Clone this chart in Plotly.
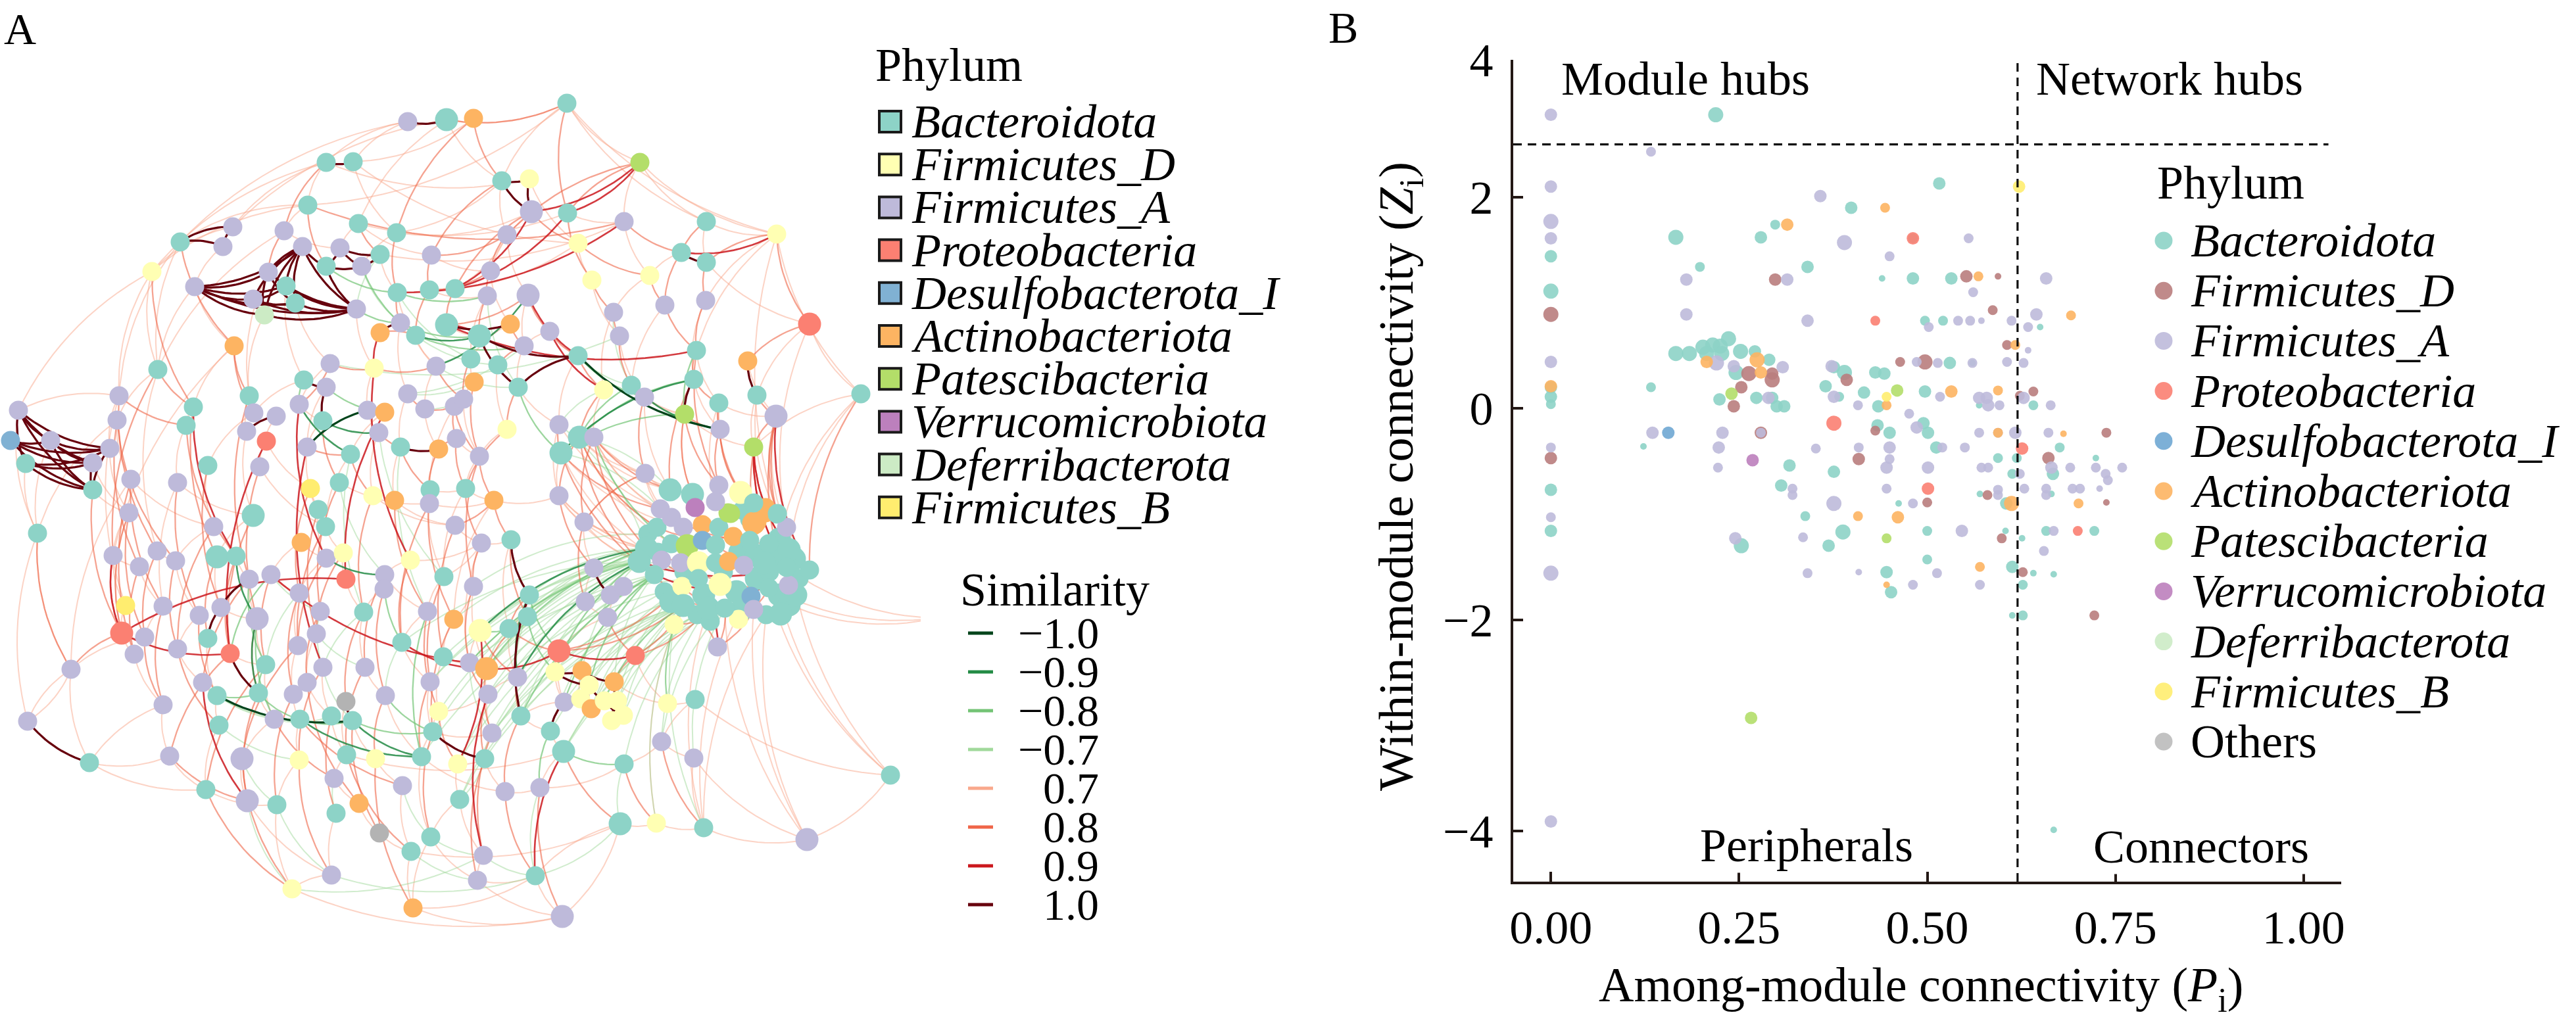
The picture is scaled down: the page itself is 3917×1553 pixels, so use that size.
import numpy as np
import plotly.graph_objects as go

W, H = 3917, 1553
SERIF = "Liberation Serif, Times New Roman, serif"

# ---------------- categories & colours ----------------
phylum_codes = ["Bac", "FiD", "FiA", "Pro", "Des", "Act", "Pat", "Ver", "Def", "FiB", "Oth"]
phylum_names = ["Bacteroidota", "Firmicutes_D", "Firmicutes_A", "Proteobacteria", "Desulfobacterota_I",
                "Actinobacteriota", "Patescibacteria", "Verrucomicrobiota", "Deferribacterota",
                "Firmicutes_B", "Others"]
net_colors = ["#8DD3C7", "#FFFFB3", "#BEBADA", "#FB8072", "#80B1D3", "#FDB462", "#B3DE69",
              "#BC80BD", "#CCEBC5", "#FFED6F", "#B3B3B3"]
zp_colors = ["#8DD3C7", "#B97D7D", "#BEBADA", "#FB8072", "#6FA7D3", "#FDB462", "#B3DE69",
             "#BC80BD", "#CCEBC5", "#FFED6F", "#BBBBBB"]

sim_labels = ["\u22121.0", "\u22120.9", "\u22120.8", "\u22120.7", "0.7", "0.8", "0.9", "1.0"]
sim_colors = ["#00441B", "#238B45", "#74C476", "#A1D99B", "#F9A88C", "#EF6548", "#CB181D", "#67000D"]

# ---------------- panel A: network nodes (layout coordinates) ----------------
nodes_fill = [("k52",1180,850,"Bac"),("k53",1208,850,"Bac"),("k54",1150,880,"Bac"),("k55",1185,905,"Bac"),
              ("k56",1120,900,"Bac"),("k57",1070,905,"Bac"),("k58",1010,900,"Bac"),("k59",1125,840,"Bac"),
              ("k60",1215,880,"Bac"),("k61",1200,920,"Bac"),("k62",1165,935,"Bac"),("k63",985,812,"Bac"),
              ("k64",1040,870,"Bac"),("k65",1125,930,"Bac"),("k66",1150,845,"Bac"),("k67",1185,820,"Bac"),
              ("k68",1020,915,"Bac"),("k69",1060,935,"Bac"),("k70",1000,840,"Bac"),("k71",1140,790,"Bac"),
              ("k72",1100,870,"Bac"),("k73",1170,870,"Bac"),("k74",1210,905,"Bac"),("k75",1080,945,"Bac")]
nodes_a = [("a1",620,185,"FiA"),("a2",679,182,"Bac"),("a3",496,247,"Bac"),("a4",537,246,"Bac"),("a5",468,312,"Bac"),
           ("a6",545,340,"Bac"),("a7",603,354,"Bac"),("a8",354,345,"FiA"),("a9",339,375,"FiA"),("a10",274,368,"Bac"),
           ("a11",432,351,"FiA"),("a12",460,375,"FiA"),("a13",517,377,"FiA"),("a14",578,387,"Bac"),("a15",496,405,"Bac"),
           ("a16",550,405,"FiA"),("a17",656,388,"FiA"),("a18",231,413,"FiD"),("a19",296,436,"FiA"),("a20",408,414,"FiA"),
           ("a21",435,435,"Bac"),("a22",385,455,"FiA"),("a23",449,461,"Bac"),("a24",402,479,"Def"),("a25",542,470,"FiA"),
           ("a26",604,445,"Bac"),("a27",653,441,"Bac"),("a28",692,439,"Bac"),("a29",609,491,"FiA"),("a30",632,510,"Bac"),
           ("a31",679,494,"Bac"),("a32",578,506,"Act"),("a33",356,526,"Act"),("a34",240,562,"Bac"),("a35",502,553,"FiA"),
           ("a36",569,560,"FiD"),("a37",663,557,"FiA"),("a38",462,578,"Bac"),("a39",496,589,"FiA"),("a40",181,602,"FiA"),
           ("a41",178,639,"FiA"),("a42",379,602,"Bac"),("a43",294,619,"Bac"),("a44",455,615,"FiA"),("a45",620,599,"FiA"),
           ("a46",559,624,"FiA"),("a47",585,627,"Act"),("a48",646,622,"FiA"),("a49",691,618,"FiA"),("a50",386,628,"FiA"),
           ("a51",420,633,"FiA"),("a52",283,647,"Bac"),("a53",491,640,"Bac"),("a54",375,656,"FiA"),("a55",405,671,"Pro"),
           ("a56",576,658,"FiA"),("a57",609,680,"Bac"),("a58",667,683,"Act"),("a59",467,680,"FiA"),("a60",533,691,"Bac"),
           ("a61",28,624,"FiA"),("a62",16,670,"Des"),("a63",77,670,"FiA"),("a64",39,705,"Bac"),("a65",167,682,"FiA"),
           ("a66",141,704,"FiA"),("a67",141,745,"Bac"),("a68",199,729,"FiA"),("a69",270,734,"FiA"),("a70",316,708,"Bac"),
           ("a71",395,710,"FiA"),("a72",472,743,"FiB"),("a73",516,734,"Bac"),("a74",567,754,"FiD"),("a75",600,761,"Act"),
           ("a76",654,745,"Bac"),("a77",653,766,"FiA"),("a78",484,775,"Bac"),("a79",196,780,"FiA"),("a80",385,784,"Bac"),
           ("a81",325,801,"FiA"),("a82",495,801,"Bac"),("a83",57,811,"Bac"),("a84",692,799,"FiA"),("a85",694,667,"FiA")]
nodes_b = [("b1",720,180,"Act"),("b2",862,157,"Bac"),("b3",973,247,"Pat"),("b4",763,275,"Bac"),("b5",805,272,"FiD"),
           ("b6",808,322,"FiA"),("b7",863,324,"Bac"),("b8",949,337,"FiA"),("b9",771,357,"FiA"),("b10",879,370,"FiD"),
           ("b11",1074,337,"Bac"),("b12",1181,356,"FiD"),("b13",1036,384,"Bac"),("b14",1074,399,"Bac"),("b15",746,412,"FiA"),
           ("b16",900,426,"FiD"),("b17",988,419,"FiD"),("b19",741,450,"FiA"),("b20",803,449,"FiA"),("b21",933,475,"FiA"),
           ("b22",1011,464,"FiA"),("b23",1073,457,"FiA"),("b24",1231,493,"Pro"),("b25",776,493,"Act"),("b26",729,511,"Bac"),
           ("b27",836,504,"FiA"),("b28",942,511,"FiA"),("b29",797,526,"FiA"),("b30",879,541,"Bac"),("b31",716,546,"Bac"),
           ("b32",757,555,"Bac"),("b33",1059,533,"Bac"),("b34",1137,549,"Act"),("b35",721,581,"Act"),("b36",788,589,"Bac"),
           ("b37",918,593,"FiD"),("b38",960,586,"Bac"),("b39",980,604,"FiA"),("b40",1055,577,"Bac"),("b41",1151,601,"Bac"),
           ("b42",1309,599,"Bac"),("b43",1093,613,"Bac"),("b44",1041,630,"Pat"),("b45",1180,633,"FiA"),("b46",705,607,"FiA"),
           ("b47",1095,653,"FiA"),("b48",1146,680,"Pat"),("b49",771,653,"FiD"),("b50",850,646,"FiA"),("b51",881,665,"Bac"),
           ("b52",903,665,"FiA"),("b53",853,689,"Bac"),("b54",729,694,"FiA"),("b56",981,720,"FiA"),("b57",708,743,"Bac"),
           ("b58",751,761,"Act"),("b59",850,754,"FiA"),("b60",888,794,"FiA")]
nodes_c = [("c7",458,825,"Act"),("c8",172,845,"FiA"),("c9",239,838,"FiA"),("c10",212,862,"FiA"),("c11",267,853,"FiA"),
           ("c12",330,847,"Bac"),("c13",359,846,"Bac"),("c14",496,849,"FiA"),("c15",522,841,"FiD"),("c16",624,852,"FiD"),
           ("c19",379,881,"FiA"),("c20",412,874,"FiA"),("c21",526,881,"Pro"),("c22",585,874,"FiA"),("c23",584,896,"FiA"),
           ("c24",675,877,"Bac"),("c25",191,921,"FiB"),("c26",248,922,"FiA"),("c27",303,936,"FiA"),("c28",336,924,"FiA"),
           ("c29",391,941,"FiA"),("c30",455,902,"FiA"),("c31",487,930,"FiA"),("c32",553,931,"Bac"),("c33",650,930,"FiA"),
           ("c34",690,942,"Act"),("c35",185,963,"Pro"),("c36",220,969,"FiA"),("c37",204,995,"FiA"),("c38",270,987,"FiA"),
           ("c39",316,971,"Bac"),("c40",350,994,"Pro"),("c41",453,982,"FiA"),("c42",481,964,"FiA"),("c43",611,977,"Bac"),
           ("c44",674,999,"Bac"),("c45",108,1018,"FiA"),("c46",404,1011,"Bac"),("c47",491,1015,"FiA"),("c48",555,1015,"FiA"),
           ("c49",308,1038,"FiA"),("c50",330,1058,"Bac"),("c51",393,1054,"Bac"),("c52",446,1056,"FiA"),("c53",467,1038,"FiA"),
           ("c54",526,1067,"Oth"),("c55",586,1058,"FiA"),("c56",654,1037,"FiA"),("c57",667,1082,"FiD"),("c58",248,1072,"FiA"),
           ("c59",417,1094,"FiA"),("c60",456,1094,"Bac"),("c61",504,1089,"Bac"),("c62",536,1096,"Bac"),("c63",658,1113,"Bac"),
           ("c64",42,1097,"FiA"),("c65",333,1103,"Bac"),("c66",136,1160,"Bac"),("c67",258,1150,"FiA"),("c68",368,1154,"FiA"),
           ("c69",455,1156,"FiD"),("c70",527,1148,"Bac"),("c71",571,1154,"FiD"),("c72",641,1151,"Bac"),("c73",696,1162,"FiD"),
           ("c74",508,1184,"FiA"),("c75",612,1195,"FiA"),("c76",313,1201,"Bac"),("c77",376,1218,"FiA"),("c78",421,1224,"Bac"),
           ("c79",546,1222,"Act"),("c80",511,1237,"Bac"),("c81",699,1216,"Bac"),("c82",577,1267,"Oth"),("c83",655,1273,"Bac"),
           ("c84",625,1295,"Bac"),("c85",504,1331,"FiA"),("c86",444,1352,"FiD"),("c87",628,1381,"Act")]
nodes_d = [("d5",732,826,"FiA"),("d6",777,821,"Bac"),("d7",903,864,"FiA"),("d8",720,892,"FiA"),("d9",805,905,"Bac"),
           ("d10",890,915,"FiA"),("d11",928,905,"FiA"),("d12",948,892,"FiA"),("d13",802,938,"Bac"),("d14",924,939,"FiA"),
           ("d15",730,959,"FiD"),("d16",774,956,"Bac"),("d17",850,990,"Pro"),("d18",966,997,"Pro"),("d19",714,1008,"FiA"),
           ("d20",740,1017,"Act"),("d21",787,1030,"FiA"),("d22",742,1056,"FiA"),("d23",844,1022,"FiD"),("d24",885,1020,"Act"),
           ("d25",896,1042,"FiD"),("d26",934,1037,"Act"),("d27",858,1068,"FiA"),("d28",883,1063,"FiD"),("d29",899,1078,"Act"),
           ("d30",919,1066,"FiD"),("d31",939,1066,"FiD"),("d32",948,1088,"FiD"),("d33",930,1096,"FiD"),("d34",792,1089,"Bac"),
           ("d35",837,1112,"Bac"),("d36",857,1143,"Bac"),("d37",748,1115,"FiA"),("d38",1015,1070,"FiD"),("d39",1057,1064,"Bac"),
           ("d40",1025,950,"FiD"),("d41",1091,984,"FiA"),("d42",1123,942,"FiD"),("d43",1187,934,"Bac"),("d44",1199,890,"FiA"),
           ("d45",1231,867,"Bac"),("d47",737,1154,"Bac"),("d50",768,1204,"FiA"),("d51",821,1198,"FiA"),("d52",949,1162,"Bac"),
           ("d53",1006,1128,"FiA"),("d54",1055,1153,"FiA"),("d55",943,1253,"Bac"),("d56",998,1252,"FiD"),("d57",1070,1259,"Bac"),
           ("d58",735,1301,"FiA"),("d59",726,1339,"FiA"),("d60",814,1332,"Bac"),("d61",855,1394,"FiA"),("d62",1227,1277,"FiA"),
           ("d63",1354,1179,"Bac"),("e1",1425,940,"Bac")]
nodes_k = [("k1",999,802,"Bac"),("k2",1021,787,"FiA"),("k3",1039,802,"FiA"),("k4",1068,798,"Act"),("k5",1093,802,"Bac"),
           ("k6",1107,780,"Pat"),("k7",1129,776,"Bac"),("k8",1146,796,"Act"),("k9",1164,780,"Act"),("k10",1182,782,"Bac"),
           ("k11",1196,802,"FiA"),("k12",983,834,"Bac"),("k13",1021,827,"Bac"),("k14",1045,830,"Pat"),("k15",1068,822,"Des"),
           ("k16",1088,829,"Bac"),("k17",1115,816,"Act"),("k18",1140,822,"Bac"),("k19",1169,827,"Bac"),("k20",1200,836,"Bac"),
           ("k21",972,854,"Bac"),("k22",1006,852,"FiA"),("k23",1035,856,"FiA"),("k24",1062,856,"FiD"),("k25",1088,856,"Bac"),
           ("k26",1108,854,"Act"),("k27",1131,860,"FiA"),("k28",1162,856,"Bac"),("k29",1196,863,"Bac"),("k30",995,874,"Bac"),
           ("k31",1037,892,"FiD"),("k32",1095,889,"FiD"),("k33",1062,880,"Bac"),("k34",1142,907,"Des"),("k35",1169,894,"Bac"),
           ("k36",1039,921,"Bac"),("k37",1077,925,"Bac"),("k38",1102,925,"Bac"),("k39",1146,927,"FiA"),("k40",1019,745,"Bac"),
           ("k41",1053,752,"Bac"),("k42",1093,738,"FiA"),("k43",1126,749,"FiD"),("k44",1057,772,"Ver"),("k45",1004,774,"FiA"),
           ("k46",1088,763,"FiA"),("k47",1111,781,"Pat"),("k48",1164,772,"Act"),("k49",1182,781,"Bac"),("k50",1146,765,"Bac"),
           ("k51",1151,794,"Act")]
large_nodes = ["a2","a31","a80","b6","b20","b24","b26","b45","b51","b53","c12","c29","c35","c68","c77","d15","d17",
               "d20","d36","d43","d55","d61","d62","k8","k12","k14","k20","k21","k24","k28","k32","k36","k37","k40",
               "k41","k43","k52","k53","k54","k55","k56","k57","k59","k61","k65","k66","k67","k68","k74"]

# ---------------- panel A: edges by similarity class ----------------
edges_m10 = "a46-a59 c50-c62 b30-b47".split()
edges_m09 = ("a30-b26 a44-a60 c13-c29 c29-c51 c60-c72 b38-b47 b40-b53 c14-c22 d9-d21 c62-c72 a53-a56 "
             "k12-d15 k21-d21 a37-b20").split()
edges_m08 = ("a15-a26 a16-a30 a25-a29 a26-b19 a29-b26 a30-b29 b30-b39 b38-b51 b36-b53 b40-b51 c19-c46 c46-c51 "
             "c51-c60 c60-c62 c62-c63 c29-c59 c55-c63 c33-c72 c22-c43 c20-c40 d15-d16 d9-d17 d13-d23 d36-d52 "
             "d35-d51 c50-c51 b33-b44 b44-b53 a38-a44 a39-a47 k30-d34 k36-d38 b52-k13 k21-d23 k30-d25 k36-d30 "
             "k12-d20 k21-d19 k30-d27").split()
edges_m07 = ("k21-d24 k30-d26 k36-d28 k37-d31 k37-d32 k36-d33 k21-d15 k21-d16 k12-d13 k12-d9 k30-d21 k36-d34 "
             "k36-d35 k37-d36 k38-d36 k36-d47 k30-d20 k21-d20 k12-d16 k36-d37 k37-d52 k38-d53 k36-d27 k36-d29 "
             "k21-c73 k12-c63 k30-c72 k21-c44 k12-c56 k45-b53 k40-b51 k12-b50 k21-d34 k30-d37 k13-d22 k22-d20 "
             "k23-c73 k33-d19 k36-d56 k37-d53 k38-d54 d40-d57 k21-c56 k12-c57 k30-c81 k31-d29 k33-d25 k36-d32 "
             "k31-d33 k30-d35 k21-d13 k63-d8 k70-d19 k58-d22 k68-d37 k69-d36 k58-c81 k12-c34 k21-c43 "
             "a26-b31 a30-b32 a37-b36 a45-b35 a48-b46 a56-c24 a57-c33 a60-c32 a73-c22 a14-a25 a16-a29 b19-b36 "
             "b30-b38 b37-b50 c20-c31 c31-c47 c47-c62 c43-c55 c32-c47 c49-c59 c50-c60 c59-c61 c65-c69 c74-c80 "
             "c75-c83 c68-c78 c77-c86 c78-c85 d13-d21 d16-d20 d19-d37 d21-d34 d51-d60 d52-d55 d58-d60 c81-d47 "
             "c83-d58 c84-d59 c86-d58 c85-d60 d60-d55 a35-b28 a45-b29 b21-b38 c42-c48 c30-c46").split()
edges_p07 = ("a1-a3 a1-a4 a2-a6 a2-b4 a3-a5 a3-a8 a4-a7 a4-b1 a5-a11 a5-a18 a6-a13 a6-a17 a7-a16 a7-b4 a8-a18 "
             "a10-a34 a11-a13 a14-a26 a17-b15 a18-a40 a18-a34 a19-a33 a19-a34 a20-a42 a21-a38 a23-a35 a24-a42 "
             "a25-a36 a26-a37 a27-b19 a28-b9 a29-a45 a30-a37 a31-b26 a33-a43 a34-a41 a35-a44 a36-a46 a37-a48 "
             "a38-a50 a39-a59 a40-a61 a40-a65 a41-a68 a42-a54 a43-a52 a44-a53 a45-a57 a46-a56 a47-a60 a48-a58 "
             "a49-a77 a50-a70 a51-a71 a52-a69 a53-a59 a54-a80 a55-a72 a56-a74 a57-a75 a58-a76 a59-a78 a60-a82 "
             "a61-a83 a63-a83 a64-a83 a65-a79 a66-a79 a67-a79 a68-a81 a69-a80 a70-a81 a71-a82 a72-a78 a73-a77 "
             "a74-a84 a75-a84 a76-b57 a77-b58 a78-c14 a79-c8 a80-c12 a81-c11 a82-c15 a83-c64 a84-d5 a85-b54 "
             "a5-b2 a2-b2 a6-b7 a11-a34 a3-a18 a10-a40 a33-c8 a34-c9 a40-c25 a4-b10 a1-a10 a2-a8 a3-b5 a18-a61 "
             "a41-a83 a68-c45 a69-c26 a79-c35 a83-c45 a9-a19 a5-a10 a7-b6 a14-b8 a27-b10 "
             "b2-b4 b2-b11 b3-b11 b3-b8 b4-b9 b5-b10 b6-b15 b7-b8 b8-b17 b9-b20 b10-b16 b11-b14 b12-b23 b12-b42 "
             "b13-b17 b14-b24 b15-b25 b16-b28 b17-b21 b19-b31 b20-b29 b21-b37 b22-b38 b23-b40 b24-b41 b24-b42 "
             "b25-b31 b26-b32 b27-b29 b28-b39 b29-b36 b30-b50 b31-b35 b32-b49 b33-b43 b34-b45 b35-b46 b36-b50 "
             "b37-b52 b38-b44 b39-b44 b40-b47 b41-b48 b42-b48 b43-b45 b44-b48 b46-b54 b49-b54 b50-b59 b51-b56 "
             "b52-b56 b53-b59 b54-b57 b56-b60 b57-b58 b58-b59 b59-b60 b60-d7 b11-b12 b2-b3 b12-b33 b3-b12 b2-b12 "
             "c7-c14 c7-c20 c8-c10 c8-c25 c9-c11 c10-c26 c11-c27 c12-c28 c13-c19 c14-c30 c15-c21 c16-c22 c19-c29 "
             "c20-c30 c21-c32 c22-c33 c23-c32 c24-c33 c25-c35 c26-c36 c27-c38 c28-c29 c29-c46 c30-c41 c31-c42 "
             "c32-c48 c33-c43 c34-c44 c35-c37 c36-c45 c37-c58 c38-c49 c39-c50 c40-c46 c41-c52 c42-c53 c43-c56 "
             "c44-c57 c45-c64 c46-c59 c47-c61 c48-c55 c49-c50 c50-c65 c51-c59 c52-c60 c53-c61 c54-c70 c55-c72 "
             "c56-c63 c57-c63 c58-c67 c59-c68 c60-c69 c61-c70 c62-c71 c63-c72 c65-c76 c66-c67 c67-c76 c68-c77 "
             "c69-c78 c70-c74 c71-c75 c72-c83 c73-c81 c74-c79 c75-c84 c76-c78 c77-c85 c78-c86 c79-c82 c80-c85 "
             "c81-c83 c82-c84 c83-c87 c84-c87 c85-c86 c45-c66 c64-c45 c58-c66 c66-c76 c64-c66 "
             "d5-d6 d5-d19 d6-d16 d7-d10 d8-d20 d9-d13 d10-d14 d11-d12 d12-d14 d13-d16 d14-d17 d15-d19 d16-d21 "
             "d17-d27 d18-d38 d19-d20 d20-d22 d21-d22 d22-d37 d23-d27 d24-d28 d26-d38 d27-d34 d34-d35 d35-d36 "
             "d36-d51 d37-d47 d38-d39 d39-d53 d47-d50 d50-d51 d51-d52 d52-d53 d53-d54 d54-d57 d55-d56 d56-d57 "
             "d58-d59 d59-d60 d60-d61 d55-d60 d57-d62 d62-d63 d54-d62 d39-d63 d61-d55 d59-d61 "
             "c24-d5 c34-d8 c44-d19 c57-d22 c63-d37 c73-d47 c72-d50 c81-d58 c83-d59 c87-d60 c84-d55 c70-d36 "
             "c16-d5 a76-c24 b57-c24 b58-c34 c87-d61 c86-d61 "
             "b51-k1 b51-k13 b53-k3 b52-k41 b52-k45 b56-k40 b56-k45 b59-k21 b60-k21 b60-k12 b47-k43 b43-k46 "
             "b39-k40 b44-k41 k35-e1 k29-e1 k20-d63 k39-d62 k38-d62 k37-d57 k36-d56 k35-d63 b42-k20 b41-k10 "
             "b45-k11 k61-e1 k62-d62 k55-d63 k65-d57 k62-d57 b50-k45 b59-k12 b51-k40 b53-k22 b52-k2 b56-k2 "
             "b60-k63 b59-k70 b12-k10 b24-k11 b42-k67").split()
edges_p08 = ("a34-a43 a34-c8 a40-c9 a41-c10 a43-c12 a42-c19 a52-c13 a33-a42 a33-a50 a18-a43 a40-a52 a41-c11 "
             "a68-c26 a69-c27 a70-c28 a71-c29 a79-c36 a79-c35 a81-c38 a80-c40 a82-c41 a78-c42 a72-c30 a73-c31 "
             "a74-c32 a75-c33 a76-c34 a77-c43 a84-c44 a83-c45 a67-c35 a68-c37 c8-c35 c9-c36 c10-c37 c11-c38 "
             "c12-c39 c13-c40 c14-c41 c15-c42 c16-c43 c22-c48 c23-c55 c24-c56 c20-c46 c19-c49 c26-c58 c27-c50 "
             "c29-c51 c30-c52 c31-c53 c32-c54 c33-c57 c34-c63 c35-c45 c36-c58 c38-c65 c40-c67 c41-c68 c47-c69 "
             "c48-c70 c55-c71 c56-c72 c57-c73 c46-c76 c51-c77 c52-c78 c53-c79 c61-c80 c62-c82 c63-c83 c70-c84 "
             "c69-c85 c68-c86 c71-c87 c76-c86 c67-c77 c59-c74 c60-c75 "
             "a5-a15 a6-a14 a7-a26 a11-a20 a17-a27 a26-a29 a27-a30 a28-a31 a30-a32 a35-a36 a36-a37 a44-a35 "
             "a46-a47 a45-a48 a48-a49 a56-a57 a59-a60 a53-a73 a60-a74 a57-a76 a58-a77 a49-a85 a85-a58 "
             "b1-b4 b2-b7 b3-b7 b3-b9 b6-b10 b7-b16 b8-b13 b9-b15 b10-b17 b11-b13 b12-b14 b12-b24 b13-b22 "
             "b14-b23 b15-b19 b16-b21 b17-b22 b19-b26 b20-b27 b21-b28 b22-b33 b23-b33 b24-b34 b25-b29 b27-b30 "
             "b28-b38 b29-b32 b30-b37 b31-b46 b32-b36 b33-b40 b35-b54 b36-b49 b37-b51 b38-b39 b39-b56 b40-b43 "
             "b41-b45 b43-b47 b44-b47 b45-b48 b49-b57 b50-b53 b51-b59 b52-b60 b54-b58 b56-b60 "
             "a31-b20 a27-b15 a17-b9 a37-b46 a49-b54 a85-b57 a84-b58 b57-d5 b58-d6 b59-d7 b60-d10 b54-d8 d5-d8 "
             "d6-d13 d8-d19 d9-d16 d13-d20 d15-d21 d16-d17 d19-d22 d20-d37 d21-d34 d22-d47 d34-d50 d37-d58 "
             "d47-d59 d50-d60 d51-d61 d36-d55 d52-d56 d53-d57 d17-d23 d18-d26 d14-d18 "
             "a10-a33 a5-b8 a3-a11 a2-b2 b4-a17 b6-a28 b1-a7 "
             "b51-k21 b52-k12 b53-k30 b51-k1 b53-k45 b52-k40 d18-k36 d18-k37 d17-k36 d40-k38 d41-k39 d42-k35 "
             "b45-k10 b48-k20 b47-k42 d41-k36 d41-k38 d40-k36 d40-k31 d42-k39 d42-k34 d17-k31 b48-k29 b45-k20 "
             "b42-d45 b48-d43 b45-d44 b44-k41 b44-k42 b47-k43 b40-k40 b43-k43 b33-k42 "
             "k12-k24 k13-k25 k22-k33 k16-k28 k5-k19 k14-k26 k23-k35 k31-k38 k32-k39 k30-k37 k1-k17 k45-k18").split()
edges_p09 = ("a28-b6 a26-b8 a31-b33 a36-c16 a44-c14 a47-c21 a55-c40 a59-c47 b20-b30 b27-b37 b6-b3 b13-b12 "
             "b45-d45 b48-k29 c21-c35 c35-c40 c20-d19 c43-d20 d20-d17 d17-d18 d36-d60 c73-d15 b26-a31 a32-a36 "
             "c49-c77 d22-d58 b7-b3 a28-b7 d41-k37 b48-k20 c8-c35 a43-c13 k21-k29 k30-k35").split()
edges_p10 = ("a1-a2 a3-a4 a8-a9 a8-a10 a9-a10 a19-a12 a19-a20 a19-a21 a19-a22 a19-a23 a19-a24 a19-a25 a12-a21 "
             "a12-a22 a12-a23 a12-a24 a12-a25 a12-a20 a12-a15 a20-a25 a21-a25 a23-a25 a22-a25 a24-a25 a20-a23 "
             "a22-a21 a20-a24 a22-a23 a13-a14 a13-a16 a15-a13 a16-a14 a15-a16 a15-a25 a61-a65 a61-a66 a61-a67 "
             "a61-a64 a62-a65 a62-a66 a62-a63 a63-a65 a63-a67 a64-a65 a64-a66 a64-a67 a65-a67 a66-a67 a62-a67 "
             "a61-a63 a63-a66 a38-a39 a39-a53 a51-a54 a57-a58 a29-a32 a31-b25 b4-b5 b4-b6 b5-b6 b13-b14 b34-b41 "
             "b26-b30 b30-b36 b26-b36 b40-b44 c64-c66 c19-c28 c28-c39 c40-c51 c54-c62 d6-d9 d9-d34 d7-d11 "
             "d27-d35 c63-d47 d23-d24 d23-d25 d24-d26 d25-d30 d28-d29 d29-d31 d30-d32 d31-d33 d24-d25 d26-d31 "
             "d25-d29 d28-d30").split()
edge_classes = [edges_m10, edges_m09, edges_m08, edges_m07, edges_p07, edges_p08, edges_p09, edges_p10]

# ---------------- panel B: Zi-Pi points (Pi, Zi, phylum, size class) ----------------
zipi_points = [
    (0.00,2.78,"FiA","M"),(0.00,2.10,"FiA","M"),(0.00,1.77,"FiA","L"),(0.00,1.61,"FiA","M"),(0.00,1.44,"Bac","M"),
    (0.00,1.11,"Bac","L"),(0.00,0.89,"FiD","L"),(0.00,0.44,"FiA","M"),(0.00,0.20,"Bac","M"),(0.00,0.21,"Act","M"),
    (0.00,0.11,"Bac","M"),(0.00,0.04,"Bac","S"),(0.00,-0.37,"FiA","S"),(0.00,-0.47,"FiD","M"),(0.00,-0.77,"Bac","M"),
    (0.00,-1.03,"FiA","S"),(0.00,-1.16,"Bac","M"),(0.00,-1.56,"FiA","L"),(0.00,-3.91,"FiA","M"),
    (0.219,2.78,"Bac","L"),(0.133,2.43,"FiA","S"),(0.166,1.62,"Bac","L"),(0.279,1.62,"Bac","M"),(0.298,1.74,"Bac","S"),
    (0.314,1.74,"Act","M"),(0.358,2.01,"FiA","M"),(0.399,1.90,"Bac","M"),(0.39,1.57,"FiA","L"),(0.198,1.34,"Bac","S"),
    (0.18,1.22,"FiA","M"),(0.341,1.34,"Bac","M"),(0.298,1.22,"FiD","M"),(0.314,1.22,"FiA","M"),(0.18,0.89,"FiA","M"),
    (0.341,0.83,"FiA","M"),
    (0.166,0.52,"Bac","L"),(0.184,0.52,"Bac","L"),(0.202,0.58,"Bac","L"),(0.215,0.60,"Bac","L"),(0.225,0.59,"Bac","L"),
    (0.236,0.66,"Bac","L"),(0.227,0.52,"Bac","L"),(0.207,0.52,"Bac","L"),(0.252,0.54,"Bac","L"),(0.271,0.54,"Bac","M"),
    (0.29,0.46,"Bac","M"),(0.207,0.44,"Act","M"),(0.274,0.46,"Act","L"),(0.22,0.43,"FiA","L"),(0.243,0.40,"FiA","M"),
    (0.246,0.34,"Bac","L"),(0.263,0.33,"FiD","L"),(0.279,0.34,"Act","M"),(0.294,0.33,"FiD","M"),(0.294,0.27,"FiD","L"),
    (0.308,0.39,"FiA","M"),(0.253,0.20,"FiD","M"),(0.24,0.14,"Pat","M"),(0.224,0.085,"Bac","M"),(0.243,0.02,"FiD","M"),
    (0.273,0.10,"Bac","M"),(0.289,0.10,"FiA","M"),(0.294,0.10,"Bac","M"),(0.30,0.02,"Bac","M"),(0.31,0.02,"Bac","M"),
    (0.133,0.20,"Bac","S"),(0.365,0.21,"Bac","M"),(0.373,0.40,"FiA","M"),(0.376,0.39,"Bac","M"),(0.39,0.34,"Bac","L"),
    (0.393,0.27,"FiD","M"),(0.376,0.11,"FiA","M"),(0.383,0.11,"Bac","S"),(0.376,-0.14,"Pro","L"),(0.135,-0.23,"FiA","M"),
    (0.156,-0.23,"Des","M"),(0.123,-0.36,"Bac","T"),(0.228,-0.23,"FiA","M"),(0.279,-0.23,"FiD","M"),(0.279,-0.23,"FiA","S"),
    (0.223,-0.37,"FiA","M"),(0.222,-0.56,"FiA","S"),(0.268,-0.49,"Ver","M"),(0.317,-0.54,"Bac","M"),(0.352,-0.38,"FiA","S"),
    (0.376,-0.60,"Bac","M"),
    (0.516,2.13,"Bac","M"),(0.622,2.10,"FiB","M"),(0.444,1.90,"Act","S"),(0.481,1.61,"Pro","M"),(0.481,1.61,"Bac","S"),
    (0.555,1.61,"FiA","S"),(0.45,1.44,"FiA","S"),(0.44,1.23,"Bac","T"),(0.481,1.23,"Bac","M"),(0.532,1.23,"Bac","M"),
    (0.552,1.25,"FiD","M"),(0.568,1.25,"Act","S"),(0.594,1.25,"FiD","T"),(0.658,1.23,"FiA","M"),(0.561,1.10,"FiA","S"),
    (0.587,0.93,"FiD","S"),(0.645,0.89,"FiA","M"),(0.691,0.88,"Act","S"),(0.431,0.83,"Pro","S"),(0.497,0.83,"Bac","S"),
    (0.502,0.77,"FiA","S"),(0.521,0.83,"Bac","S"),(0.541,0.83,"FiA","S"),(0.557,0.83,"FiA","S"),(0.572,0.83,"FiA","T"),
    (0.612,0.83,"FiA","S"),(0.634,0.77,"FiA","S"),(0.65,0.77,"Bac","T"),(0.606,0.60,"FiD","S"),(0.617,0.60,"Act","S"),
    (0.634,0.55,"FiA","T"),(0.464,0.44,"FiD","S"),(0.486,0.44,"FiA","S"),(0.497,0.44,"FiD","L"),(0.514,0.43,"FiA","S"),
    (0.53,0.43,"Bac","M"),(0.56,0.43,"FiA","S"),(0.56,0.43,"Bac","T"),(0.606,0.44,"FiA","S"),(0.628,0.43,"FiA","S"),
    (0.431,0.34,"Bac","M"),(0.443,0.33,"Bac","M"),(0.416,0.15,"Bac","M"),(0.46,0.17,"Pat","M"),(0.446,0.11,"FiB","S"),
    (0.446,0.03,"Act","S"),(0.435,0.02,"Bac","M"),(0.408,0.03,"FiA","S"),(0.497,0.16,"Bac","M"),(0.532,0.16,"Act","M"),
    (0.517,0.11,"FiA","S"),(0.569,0.10,"FiA","M"),(0.579,0.10,"FiA","M"),(0.581,0.03,"FiA","M"),(0.569,0.03,"Bac","T"),
    (0.596,0.03,"FiA","S"),(0.594,0.17,"Act","S"),(0.623,0.12,"FiD","S"),(0.628,0.10,"FiA","M"),(0.641,0.16,"FiD","S"),
    (0.641,0.03,"Bac","S"),(0.664,0.03,"FiA","S"),(0.476,-0.05,"FiA","S"),(0.495,-0.14,"Bac","M"),(0.486,-0.18,"FiA","M"),
    (0.501,-0.23,"Bac","M"),(0.434,-0.16,"Bac","M"),(0.431,-0.21,"FiD","S"),(0.45,-0.23,"Bac","M"),(0.45,-0.37,"FiA","M"),
    (0.45,-0.48,"FiA","S"),(0.446,-0.56,"FiA","M"),(0.409,-0.37,"FiA","S"),(0.409,-0.48,"FiD","M"),(0.512,-0.37,"Bac","M"),
    (0.52,-0.37,"FiA","S"),(0.501,-0.56,"FiA","M"),(0.55,-0.37,"FiA","S"),(0.569,-0.23,"FiA","S"),(0.594,-0.23,"Act","S"),
    (0.594,-0.23,"FiA","S"),(0.617,-0.23,"FiA","M"),(0.661,-0.23,"FiA","S"),(0.681,-0.24,"Act","T"),(0.738,-0.23,"FiD","S"),
    (0.626,-0.38,"Pro","M"),(0.594,-0.47,"Bac","S"),(0.619,-0.47,"Bac","S"),(0.661,-0.47,"FiD","M"),(0.676,-0.37,"Bac","S"),
    (0.724,-0.47,"Bac","T"),(0.572,-0.56,"FiA","S"),(0.581,-0.56,"FiA","S"),(0.665,-0.56,"FiA","M"),(0.69,-0.56,"FiA","S"),
    (0.724,-0.56,"FiA","S"),(0.737,-0.62,"FiA","S"),(0.759,-0.56,"FiA","S"),(0.667,-0.62,"Bac","M"),(0.613,-0.62,"Bac","S"),
    (0.623,-0.62,"FiA","S"),(0.74,-0.68,"FiA","S"),
    (0.245,-1.23,"FiA","M"),(0.253,-1.30,"Bac","L"),(0.306,-0.73,"Bac","M"),(0.321,-0.76,"FiA","S"),(0.321,-0.82,"FiA","S"),
    (0.376,-0.90,"FiA","L"),(0.338,-1.02,"Bac","S"),(0.335,-1.22,"FiA","S"),(0.388,-1.17,"Bac","L"),(0.369,-1.30,"Bac","M"),
    (0.341,-1.56,"FiA","S"),(0.266,-2.93,"Pat","M"),
    (0.446,-0.76,"FiA","S"),(0.501,-0.76,"Pro","M"),(0.462,-0.90,"Bac","T"),(0.481,-0.90,"FiA","S"),(0.50,-0.89,"FiD","S"),
    (0.408,-1.02,"Act","S"),(0.461,-1.03,"Act","M"),(0.446,-1.23,"Pat","S"),(0.50,-1.16,"Bac","S"),(0.546,-1.16,"FiA","M"),
    (0.57,-0.81,"Bac","T"),(0.58,-0.82,"FiD","S"),(0.594,-0.77,"FiA","S"),(0.594,-0.82,"FiA","S"),(0.605,-0.90,"Bac","M"),
    (0.612,-0.90,"Act","L"),(0.629,-0.76,"FiA","S"),(0.658,-0.76,"FiA","S"),(0.658,-0.82,"FiA","S"),(0.665,-0.81,"Bac","T"),
    (0.693,-0.76,"FiA","S"),(0.703,-0.76,"FiA","S"),(0.729,-0.76,"FiA","T"),(0.701,-0.90,"Act","S"),(0.738,-0.89,"FiD","T"),
    (0.604,-1.16,"Bac","T"),(0.599,-1.23,"FiD","S"),(0.626,-1.23,"Bac","T"),(0.658,-1.16,"Bac","S"),(0.668,-1.16,"FiA","S"),
    (0.70,-1.16,"Pro","S"),(0.722,-1.16,"Bac","S"),(0.655,-1.35,"FiA","S"),(0.50,-1.43,"Bac","S"),(0.409,-1.55,"FiA","T"),
    (0.446,-1.55,"Bac","M"),(0.513,-1.56,"FiA","S"),(0.57,-1.50,"Act","S"),(0.613,-1.50,"Bac","M"),(0.627,-1.55,"FiD","S"),
    (0.641,-1.56,"Bac","T"),(0.668,-1.57,"Bac","T"),(0.446,-1.67,"Act","T"),(0.452,-1.74,"Bac","M"),(0.481,-1.67,"FiA","S"),
    (0.57,-1.67,"FiA","S"),(0.627,-1.67,"Bac","S"),(0.613,-1.96,"Bac","T"),(0.627,-1.96,"Bac","S"),(0.722,-1.96,"FiD","S"),
    (0.668,-3.99,"Bac","T"),
]
pi_thr, zi_thr = 0.62, 2.5
x_tick_vals = [0, 0.25, 0.5, 0.75, 1.0]
x_tick_text = ["0.00", "0.25", "0.50", "0.75", "1.00"]
y_tick_vals = [-4, -2, 0, 2, 3.299]
y_tick_text = ["\u22124", "\u22122", "0", "2", "4"]
quadrant_labels = ["Module hubs", "Network hubs", "Peripherals", "Connectors"]

# ================= build =================
all_nodes = nodes_fill + nodes_a + nodes_b + nodes_c + nodes_d + nodes_k
node_id = [n[0] for n in all_nodes]
node_x = np.array([n[1] for n in all_nodes], float)
node_y = np.array([n[2] for n in all_nodes], float)
node_phylum = [n[3] for n in all_nodes]
idx = {k: i for i, k in enumerate(node_id)}

fig = go.Figure()

def curve(i, j, k=0.16, n=16):
    x0, y0, x1, y1 = node_x[i], node_y[i], node_x[j], node_y[j]
    mx, my = (x0 + x1) / 2, (y0 + y1) / 2
    dx, dy = x1 - x0, y1 - y0
    cx, cy = mx - k * dy, my + k * dx
    t = np.linspace(0, 1, n)
    bx = (1 - t) ** 2 * x0 + 2 * (1 - t) * t * cx + t ** 2 * x1
    by = (1 - t) ** 2 * y0 + 2 * (1 - t) * t * cy + t ** 2 * y1
    return bx, by

edge_style = [  # (alpha, width) per similarity class
    (1.0, 3.2), (0.85, 2.6), (0.7, 2.3), (0.5, 2.0), (0.5, 2.0), (0.6, 2.3), (0.85, 2.6), (1.0, 3.2)]
draw_order = [4, 3, 5, 2, 6, 1, 0, 7]
for c in draw_order:
    xs, ys = [], []
    for e in edge_classes[c]:
        a, b = e.split("-")
        if a not in idx or b not in idx:
            continue
        bx, by = curve(idx[a], idx[b])
        xs += list(bx) + [None]
        ys += list(by) + [None]
    alpha, width = edge_style[c]
    h = sim_colors[c].lstrip("#")
    r, g, b_ = int(h[0:2], 16), int(h[2:4], 16), int(h[4:6], 16)
    fig.add_trace(go.Scatter(x=xs, y=ys, mode="lines", xaxis="x", yaxis="y", hoverinfo="skip",
                             line=dict(color=f"rgba({r},{g},{b_},{alpha})", width=width), showlegend=False))

code_to_net = dict(zip(phylum_codes, net_colors))
sizes = [35 if nid in large_nodes else 29 for nid in node_id]
fig.add_trace(go.Scatter(x=node_x, y=node_y, mode="markers", xaxis="x", yaxis="y",
                         marker=dict(color=[code_to_net[p] for p in node_phylum], size=sizes, line=dict(width=0),
                                     opacity=1),
                         text=node_id, hoverinfo="text", showlegend=False))

# panel B points
size_px = {"T": 10, "S": 15, "M": 19, "L": 23}
for code, name, col in zip(phylum_codes, phylum_names, zp_colors):
    pts = [p for p in zipi_points if p[2] == code]
    if not pts:
        continue
    fig.add_trace(go.Scatter(x=[p[0] for p in pts], y=[p[1] for p in pts], mode="markers", name=name,
                             xaxis="x2", yaxis="y2", showlegend=False,
                             marker=dict(color=col, size=[size_px[p[3]] for p in pts], opacity=0.9,
                                         line=dict(width=0))))

# threshold dashed lines
fig.add_trace(go.Scatter(x=[-0.05, 1.033], y=[zi_thr, zi_thr], mode="lines", xaxis="x2", yaxis="y2",
                         line=dict(color="#111111", width=3.2, dash="13px,9px"), showlegend=False, hoverinfo="skip"))
fig.add_trace(go.Scatter(x=[pi_thr, pi_thr], y=[-4.48, 3.30], mode="lines", xaxis="x2", yaxis="y2",
                         line=dict(color="#111111", width=3.2, dash="13px,9px"), showlegend=False, hoverinfo="skip"))

def px(x):
    return x / W

def py(y):
    return 1 - y / H

annotations, shapes = [], []

def text(x, y, s, size=72, anchor="left", angle=0, bg=None):
    d = dict(x=px(x), y=py(y), xref="paper", yref="paper", text=s, showarrow=False, xanchor=anchor,
             yanchor="middle", textangle=angle, font=dict(family=SERIF, size=size, color="black"))
    if bg:
        d["bgcolor"] = bg
    annotations.append(d)

# panel labels
text(4, 44, "A", 68)
text(2018, 42, "B", 68)

# panel A legends
text(1329, 99, "Phylum", 72)
for i in range(10):
    yc = 185 + 65.2 * i
    shapes.append(dict(type="rect", xref="paper", yref="paper", x0=px(1337), x1=px(1370), y0=py(yc + 16),
                       y1=py(yc - 16), fillcolor=net_colors[i], line=dict(color="#1a1a1a", width=4)))
    text(1384, yc, f"<i>{phylum_names[i]}</i>", 72)
text(1458, 897, "Similarity", 72)
for i, (lab, col) in enumerate(zip(sim_labels, sim_colors)):
    yc = 963 + 59 * i
    shapes.append(dict(type="line", xref="paper", yref="paper", x0=px(1472), x1=px(1510), y0=py(yc), y1=py(yc),
                       line=dict(color=col, width=5)))
    text(1673, yc, lab, 68, anchor="right")

# panel B legend
text(3278, 278, "Phylum", 72)
for i in range(11):
    yc = 366 + 76.2 * i
    r = 13.5
    shapes.append(dict(type="circle", xref="paper", yref="paper", x0=px(3290 - r), x1=px(3290 + r),
                       y0=py(yc + r), y1=py(yc - r), fillcolor=zp_colors[i], line=dict(width=0), opacity=0.9))
    label = phylum_names[i] if phylum_names[i] == "Others" else f"<i>{phylum_names[i]}</i>"
    text(3329, yc, label, 72)

# quadrant labels
text(2563, 120, quadrant_labels[0], 72, anchor="center", bg="white")
text(3299, 120, quadrant_labels[1], 72, anchor="center", bg="white")
text(2747, 1286, quadrant_labels[2], 72, anchor="center", bg="white")
text(3347, 1288, quadrant_labels[3], 72, anchor="center", bg="white")

# axis titles
text(2921, 1503, "Among-module connectivity (<i>P</i><sub>i</sub>)", 74, anchor="center")
text(2128, 725, "Within-module connectivity (<i>Z</i><sub>i</sub>)", 74, anchor="center", angle=-90)

axis_col = "#231815"
fig.update_layout(
    width=W, height=H, autosize=False,
    margin=dict(l=0, r=0, t=0, b=0, pad=0, autoexpand=False),
    paper_bgcolor="white", plot_bgcolor="rgba(0,0,0,0)",
    showlegend=False, annotations=annotations, shapes=shapes,
    xaxis=dict(domain=[0, 1400 / W], range=[0, 1400], visible=False, fixedrange=True, automargin=False),
    yaxis=dict(domain=[0, 1], range=[H, 0], visible=False, fixedrange=True, automargin=False),
    xaxis2=dict(domain=[2301 / W, 3560 / W], range=[-0.05, 1.05], anchor="y2", tickvals=x_tick_vals,
                ticktext=x_tick_text, ticks="inside", ticklen=15, tickwidth=4, tickcolor=axis_col,
                showline=True, linecolor=axis_col, linewidth=4, showgrid=False, zeroline=False,
                automargin=False, tickfont=dict(family=SERIF, size=72, color="black"), ticklabelstandoff=4),
    yaxis2=dict(domain=[1 - 1341 / H, 1 - 91 / H], range=[-4.48, 3.30], anchor="x2", tickvals=y_tick_vals,
                ticktext=y_tick_text, ticks="inside", ticklen=15, tickwidth=4, tickcolor=axis_col,
                showline=True, linecolor=axis_col, linewidth=4, showgrid=False, zeroline=False,
                automargin=False, tickfont=dict(family=SERIF, size=72, color="black"), ticklabelstandoff=12),
)

fig.write_html("out.html", config={"displayModeBar": False, "staticPlot": False},
               post_script="document.body.style.margin='0';document.body.style.overflow='hidden';")
